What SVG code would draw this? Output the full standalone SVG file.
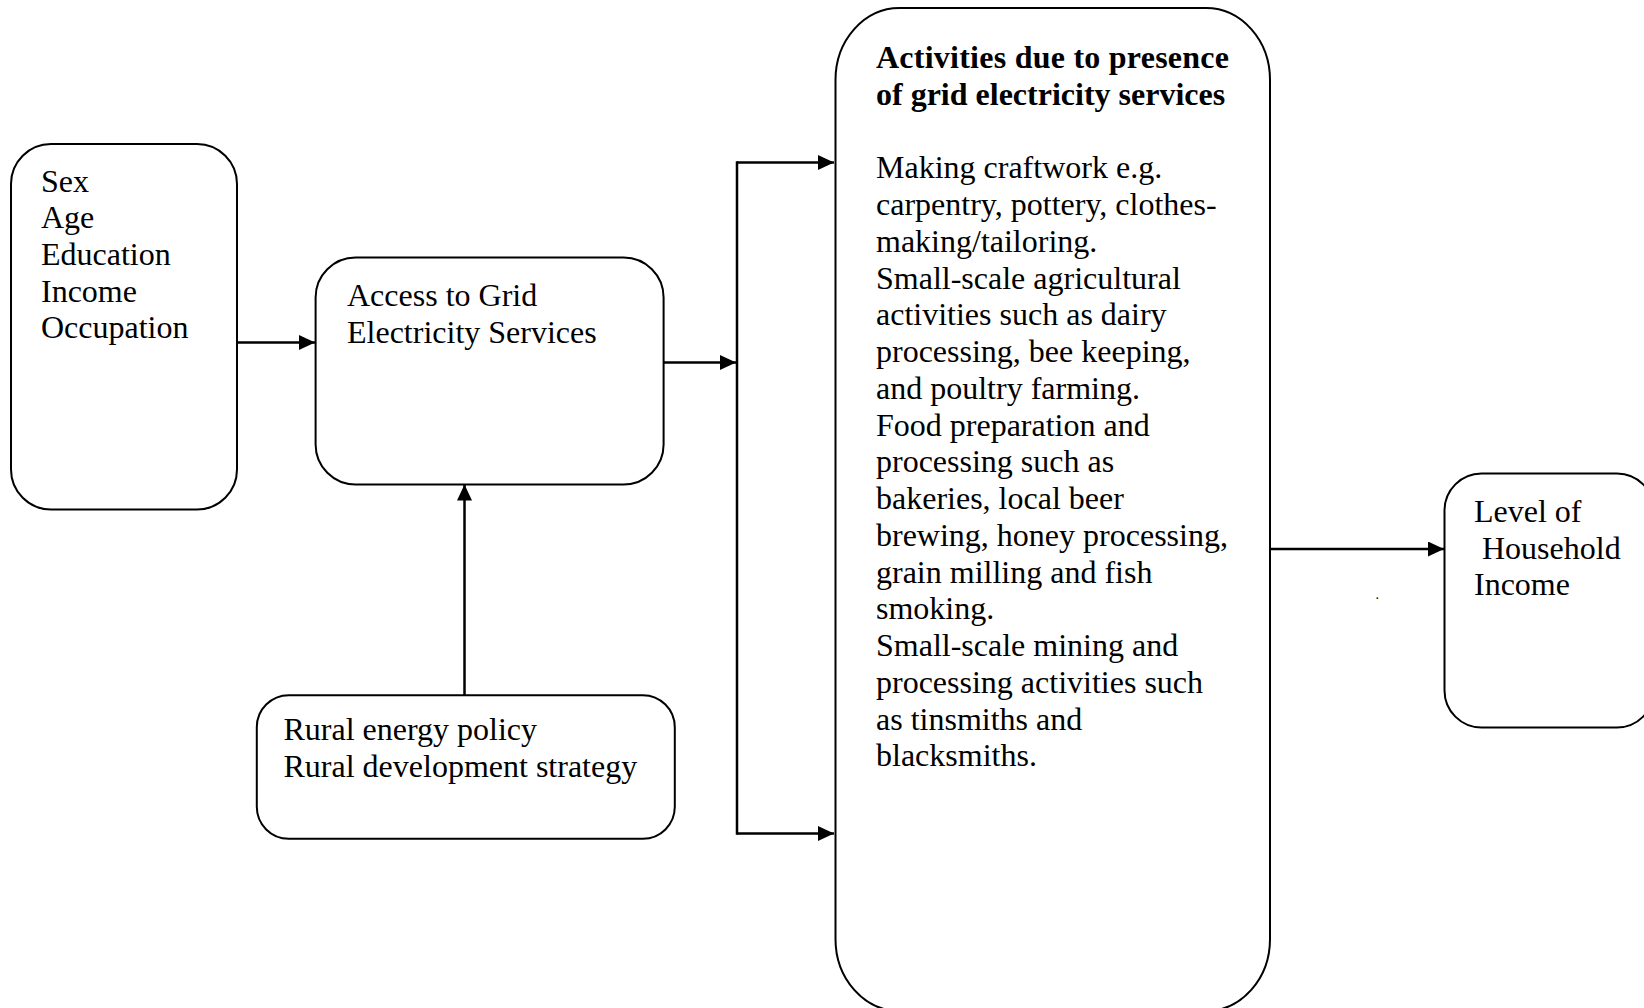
<svg xmlns="http://www.w3.org/2000/svg" width="1644" height="1008" viewBox="0 0 1644 1008">
<style>
.box{fill:#fff;stroke:#000;stroke-width:2}
.t{font-family:"Liberation Serif","Times New Roman",serif;font-size:32px;fill:#000}
.b{font-weight:bold}
.c{fill:none;stroke:#000;stroke-width:2.5}
</style>
<defs>
<marker id="ah" markerWidth="16" markerHeight="15" refX="16" refY="7.5" orient="auto" markerUnits="userSpaceOnUse">
<path d="M0,0 L16,7.5 L0,15 Z" fill="#000"/>
</marker>
</defs>
<rect width="1644" height="1008" fill="#fff"/>
<g id="connectors">
<line class="c" x1="237" y1="342.5" x2="315" y2="342.5" marker-end="url(#ah)"/>
<line class="c" x1="664" y1="362.5" x2="736" y2="362.5" marker-end="url(#ah)"/>
<line class="c" x1="737" y1="161.3" x2="737" y2="834.7"/>
<line class="c" x1="737" y1="162.5" x2="834" y2="162.5" marker-end="url(#ah)"/>
<line class="c" x1="737" y1="833.5" x2="834" y2="833.5" marker-end="url(#ah)"/>
<line class="c" x1="464.5" y1="695" x2="464.5" y2="484.5" marker-end="url(#ah)"/>
<line class="c" x1="1270" y1="549" x2="1444" y2="549" marker-end="url(#ah)"/>
</g>
<g id="node-demographics">
<rect class="box" x="11" y="144" width="226" height="365.5" rx="40" ry="40"/>
<text class="t" x="41" y="191.7">Sex<tspan x="41" dy="36.67">Age</tspan><tspan x="41" dy="36.67">Education</tspan><tspan x="41" dy="36.67">Income</tspan><tspan x="41" dy="36.67">Occupation</tspan></text>
</g>
<g id="node-access">
<rect class="box" x="315.6" y="257.5" width="348" height="227" rx="40" ry="40"/>
<text class="t" x="347" y="306">Access to Grid<tspan x="347" dy="36.67">Electricity Services</tspan></text>
</g>
<g id="node-policy">
<rect class="box" x="256.8" y="695.2" width="418" height="143.6" rx="32" ry="32"/>
<text class="t" x="283.5" y="740">Rural energy policy<tspan x="283.5" dy="36.67">Rural development strategy</tspan></text>
</g>
<g id="node-activities">
<rect class="box" x="835.5" y="8" width="434.5" height="1003" rx="64" ry="72"/>
<text class="t b" x="876" y="68.3" textLength="353" lengthAdjust="spacing">Activities due to presence</text>
<text class="t b" x="876" y="105">of grid electricity services</text>
<text class="t" x="876" y="178.3">Making craftwork e.g.<tspan x="876" dy="36.75">carpentry, pottery, clothes-</tspan><tspan x="876" dy="36.75">making/tailoring.</tspan><tspan x="876" dy="36.75">Small-scale agricultural</tspan><tspan x="876" dy="36.75">activities such as dairy</tspan><tspan x="876" dy="36.75">processing, bee keeping,</tspan><tspan x="876" dy="36.75">and poultry farming.</tspan><tspan x="876" dy="36.75">Food preparation and</tspan><tspan x="876" dy="36.75">processing such as</tspan><tspan x="876" dy="36.75">bakeries, local beer</tspan><tspan x="876" dy="36.75">brewing, honey processing,</tspan><tspan x="876" dy="36.75">grain milling and fish</tspan><tspan x="876" dy="36.75">smoking.</tspan><tspan x="876" dy="36.75">Small-scale mining and</tspan><tspan x="876" dy="36.75">processing activities such</tspan><tspan x="876" dy="36.75">as tinsmiths and</tspan><tspan x="876" dy="36.75">blacksmiths.</tspan></text>
</g>
<g id="node-income">
<rect class="box" x="1444.5" y="473.5" width="209.5" height="254" rx="37" ry="37"/>
<text class="t" x="1474" y="522">Level of<tspan x="1482" dy="36.67">Household</tspan><tspan x="1474" dy="36.67">Income</tspan></text>
</g>
<text class="t" x="1375.5" y="598.5" style="font-size:14px">.</text>
</svg>
